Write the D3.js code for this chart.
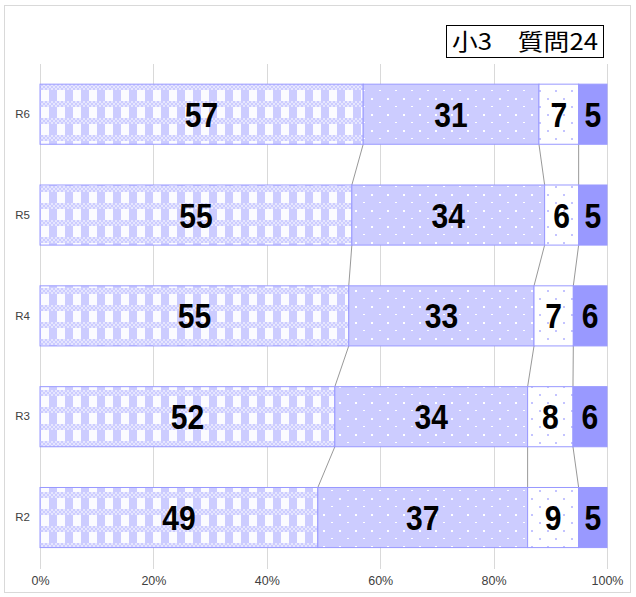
<!DOCTYPE html>
<html>
<head>
<meta charset="utf-8">
<script src="https://cdn.jsdelivr.net/npm/d3@7"></script>
<style>
  body { margin: 0; background: #fff; }
  svg { display: block; }
</style>
</head>
<body>
<svg id="chart" width="636" height="597"></svg>
<script>
// Survey answers by year (percent), one array per answer category
const years = ["R6", "R5", "R4", "R3", "R2"];
const answerA = [57, 55, 55, 52, 49];
const answerB = [31, 34, 33, 34, 37];
const answerC = [7, 6, 7, 8, 9];
const answerD = [5, 5, 6, 6, 5];
const xTicks = [0, 0.2, 0.4, 0.6, 0.8, 1.0];
const title = "小3　質問24";

const keys = ["a", "b", "c", "d"];
const rows = years.map((y, i) => ({ year: y, a: answerA[i], b: answerB[i], c: answerC[i], d: answerD[i] }));

const svg = d3.select("#chart");

// outer frame
svg.append("rect")
  .attr("x", 4.5).attr("y", 5.5).attr("width", 626).attr("height", 587)
  .attr("fill", "#fff").attr("stroke", "#d9d9d9").attr("stroke-width", 1);

// fill patterns
const defs = svg.append("defs");

// checkered pattern
const pA = defs.append("pattern").attr("id", "patA")
  .attr("patternUnits", "userSpaceOnUse").attr("width", 16).attr("height", 17)
  .attr("x", 41).attr("y", 84);
pA.append("rect").attr("width", 16).attr("height", 17).attr("fill", "#ffffff");
for (let cx = 0; cx < 16; cx += 2) {
  for (let cy = 0; cy < 6; cy += 2) {
    pA.append("rect").attr("x", cx).attr("y", cy).attr("width", 2).attr("height", 2)
      .attr("fill", ((cx + cy) / 2) % 2 === 0 ? "#ccccff" : "#e6e6ff");
  }
}
pA.append("rect").attr("x", 8).attr("y", 6).attr("width", 8).attr("height", 11).attr("fill", "#ccccff");
pA.append("rect").attr("x", 0).attr("y", 6).attr("width", 8).attr("height", 11).attr("fill", "#fbfbff");

// lavender with white dots
const pB = defs.append("pattern").attr("id", "patB")
  .attr("patternUnits", "userSpaceOnUse").attr("width", 16).attr("height", 16);
pB.append("rect").attr("width", 16).attr("height", 16).attr("fill", "#ccccff");
pB.append("rect").attr("x", 3).attr("y", 2).attr("width", 2).attr("height", 2).attr("fill", "#ffffff");
pB.append("rect").attr("x", 11).attr("y", 10).attr("width", 2).attr("height", 1).attr("fill", "#ffffff");

// white with lavender dots
const pC = defs.append("pattern").attr("id", "patC")
  .attr("patternUnits", "userSpaceOnUse").attr("width", 16).attr("height", 16);
pC.append("rect").attr("width", 16).attr("height", 16).attr("fill", "#ffffff");
pC.append("rect").attr("x", 3).attr("y", 2).attr("width", 2).attr("height", 2).attr("fill", "#c4c4ff");
pC.append("rect").attr("x", 11).attr("y", 10).attr("width", 2).attr("height", 2).attr("fill", "#c4c4ff");

const fills = { a: "url(#patA)", b: "url(#patB)", c: "url(#patC)", d: "#9999ff" };

// scales
const x = d3.scaleLinear().domain([0, 1]).range([40, 607]);
const y = d3.scaleBand().domain(years).range([64, 567.75]).paddingInner(0.404).paddingOuter(0.2);

// gridlines + bottom axis
const xAxis = d3.axisBottom(x).tickValues(xTicks).tickFormat(d3.format(".0%"))
  .tickSize(-(569 - 64)).tickPadding(7);
const gx = svg.append("g").attr("transform", "translate(0,569)").call(xAxis);
gx.select(".domain").remove();
gx.selectAll(".tick line").attr("stroke", "#d9d9d9").attr("shape-rendering", "crispEdges");
gx.selectAll(".tick text")
  .attr("font-family", "Liberation Sans, Arial, sans-serif").attr("font-size", 12.5).attr("fill", "#404040");

// left axis labels
const yAxis = d3.axisLeft(y).tickSize(0).tickPadding(10);
const gy = svg.append("g").attr("transform", "translate(40,0)").call(yAxis);
gy.select(".domain").remove();
gy.selectAll(".tick text")
  .attr("font-family", "Liberation Sans, Arial, sans-serif").attr("font-size", 11.5).attr("fill", "#404040");

// stacked series, normalised to 100%
const stack = d3.stack().keys(keys).offset(d3.stackOffsetExpand);
const series = stack(rows);

// connector lines between segment boundaries of neighbouring bars
const conn = svg.append("g").attr("stroke", "#8c8c8c").attr("stroke-width", 0.9).attr("fill", "none");
series.slice(0, 3).forEach(s => {
  for (let i = 0; i < years.length - 1; i++) {
    conn.append("line")
      .attr("x1", x(s[i][1])).attr("y1", y(years[i]) + y.bandwidth())
      .attr("x2", x(s[i + 1][1])).attr("y2", y(years[i + 1]));
  }
});

// bars
const barG = svg.append("g");
series.forEach(s => {
  barG.selectAll(null).data(s).enter().append("rect")
    .attr("x", d => x(d[0]))
    .attr("y", d => y(d.data.year))
    .attr("width", d => x(d[1]) - x(d[0]))
    .attr("height", y.bandwidth())
    .attr("fill", fills[s.key])
    .attr("stroke", "#9999ff")
    .attr("stroke-width", 1);
});

// value labels
const lblG = svg.append("g");
series.forEach(s => {
  lblG.selectAll(null).data(s).enter().append("text")
    .attr("transform", d => `translate(${(x(d[0]) + x(d[1])) / 2},${y(d.data.year) + y.bandwidth() / 2 + 12.5}) scale(0.86,1)`)
    .attr("text-anchor", "middle")
    .attr("font-family", "Liberation Sans, Arial, sans-serif")
    .attr("font-weight", "bold")
    .attr("font-size", 35)
    .attr("fill", "#000")
    .text(d => d.data[s.key]);
});

// title box
svg.append("rect").attr("x", 446.5).attr("y", 25.5).attr("width", 157).attr("height", 32)
  .attr("fill", "#fff").attr("stroke", "#000").attr("stroke-width", 1);
svg.append("text").attr("x", 452).attr("y", 50)
  .attr("textLength", 146).attr("lengthAdjust", "spacingAndGlyphs")
  .attr("font-family", "Noto Sans CJK JP, sans-serif").attr("font-size", 23).attr("fill", "#000")
  .text(title);
</script>
</body>
</html>
